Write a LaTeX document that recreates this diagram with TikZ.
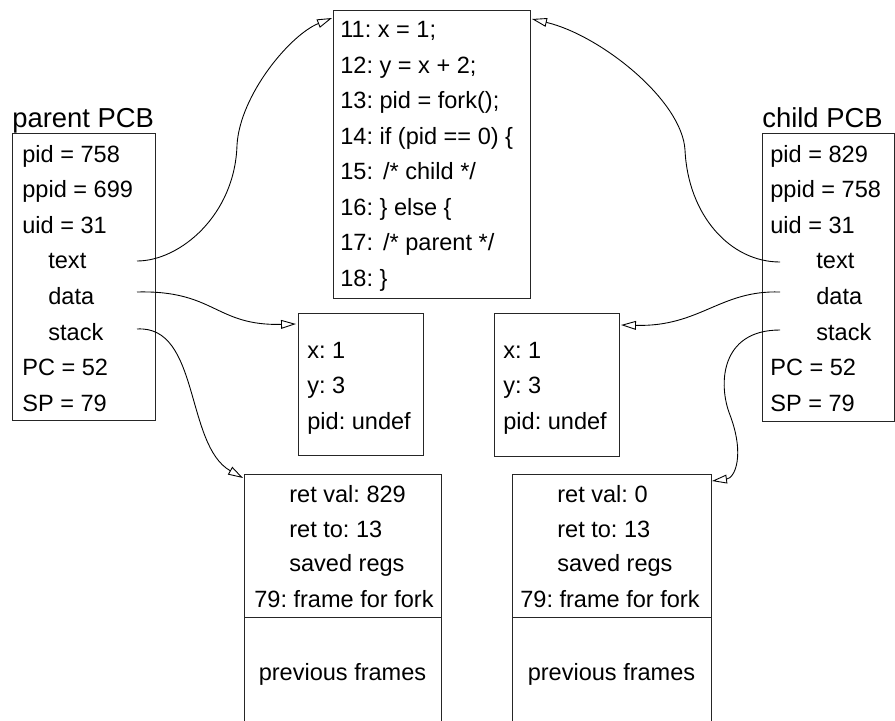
\documentclass[tikz,border=0pt]{standalone}
\usepackage{fontspec}
\setmainfont{Liberation Sans}
\usetikzlibrary{arrows.meta}
\frenchspacing
\tikzstyle{box}=[draw=black!85, line width=0.6pt, anchor=north west, inner sep=0pt]
\tikzstyle{line}=[anchor=base west, inner sep=0pt, font=\fontsize{13.4}{16}\selectfont]
\tikzstyle{midline}=[anchor=base, inner sep=0pt, font=\fontsize{13.4}{16}\selectfont]
\tikzstyle{title}=[anchor=base west, inner sep=0pt, font=\fontsize{15.6}{19}\selectfont]
\tikzstyle{ptr}=[line width=0.5pt, -{Triangle[open, length=8.5pt, width=5pt]}]

\begin{document}
\begin{tikzpicture}[x=0.02cm, y=-0.02cm]
	\clip (0,0) rectangle (895,720);
	% boxes
	\node[box, minimum width=2.86cm, minimum height=5.74cm] (parent) at (12,133) {};
	\node[box, minimum width=2.64cm, minimum height=5.76cm] (child) at (762,133) {};
	\node[box, minimum width=3.94cm, minimum height=5.76cm] (code) at (333,10) {};
	\node[box, minimum width=2.5cm, minimum height=2.84cm] (pdata) at (298,313) {};
	\node[box, minimum width=2.5cm, minimum height=2.86cm] (cdata) at (494,313) {};
	\node[box, minimum width=3.94cm, minimum height=2.86cm] (pframe) at (244,474) {};
	\node[box, minimum width=3.94cm, minimum height=3.2cm] (pprev) at (244,617) {};
	\node[box, minimum width=3.98cm, minimum height=2.86cm] (cframe) at (512,474) {};
	\node[box, minimum width=3.98cm, minimum height=3.2cm] (cprev) at (512,617) {};

	% parent PCB
	\node[title] (ptitle) at (12,127) {parent PCB};
	\node[line] (ppid) at (22,162) {pid = 758};
	\node[line] (pppid) at (22,197.6) {ppid = 699};
	\node[line] (puid) at (22,233.2) {uid = 31};
	\node[line] (ptextl) at (48,268.8) {text};
	\node[line] (pdatal) at (48,304.4) {data};
	\node[line] (pstackl) at (48,340) {stack};
	\node[line] (ppc) at (22,375.6) {PC = 52};
	\node[line] (psp) at (22,411.2) {SP = 79};

	% child PCB
	\node[title] (ctitle) at (762,127) {child PCB};
	\node[line] (cpid) at (770,162) {pid = 829};
	\node[line] (cppid) at (770,197.6) {ppid = 758};
	\node[line] (cuid) at (770,233.2) {uid = 31};
	\node[line] (ctextl) at (816,268.8) {text};
	\node[line] (cdatal) at (816,304.4) {data};
	\node[line] (cstackl) at (816,340) {stack};
	\node[line] (cpc) at (770,375.6) {PC = 52};
	\node[line] (csp) at (770,411.2) {SP = 79};

	% program text
	\node[line] (l11) at (340,37.7) {11: x = 1;};
	\node[line] (l12) at (340,73.2) {12: y = x + 2;};
	\node[line] (l13) at (340,108.7) {13: pid = fork();};
	\node[line] (l14) at (340,144.2) {14: if (pid == 0) \{};
	\node[line] (l15) at (340,179.7) {15: \hspace{2pt}/* child */};
	\node[line] (l16) at (340,215.2) {16: \} else \{};
	\node[line] (l17) at (340,250.7) {17: \hspace{2pt}/* parent */};
	\node[line] (l18) at (340,286.2) {18: \}};

	% data segments
	\node[line] (px) at (307,358) {x: 1};
	\node[line] (py) at (307,393.5) {y: 3};
	\node[line] (ppidv) at (307,429) {pid: undef};
	\node[line] (cx) at (503,358) {x: 1};
	\node[line] (cy) at (503,393.5) {y: 3};
	\node[line] (cpidv) at (503,429) {pid: undef};

	% stacks
	\node[line] (pret) at (289,502) {ret val: 829};
	\node[line] (pretto) at (289,537) {ret to: 13};
	\node[line] (pregs) at (289,571) {saved regs};
	\node[line] (pfork) at (254,607) {79: frame for fork};
	\node[midline] (pprevl) at (342.5,680) {previous frames};
	\node[line] (cret) at (557,502) {ret val: 0};
	\node[line] (cretto) at (557,537) {ret to: 13};
	\node[line] (cregs) at (557,571) {saved regs};
	\node[line] (cfork) at (520,607) {79: frame for fork};
	\node[midline] (cprevl) at (611.5,680) {previous frames};

	% pointers
	\coordinate (ptext) at (137,261);
	\coordinate (pdat) at (137,292);
	\coordinate (pstk) at (137,329);
	\coordinate (ctext) at (780,262);
	\coordinate (cdat) at (780,292);
	\coordinate (cstk) at (780,330);
	\coordinate (codel) at (332,18);
	\coordinate (coder) at (532,19);
	\coordinate (pdatin) at (296,324);
	\coordinate (cdatin) at (621,325);
	\coordinate (pstkin) at (243,478);
	\coordinate (cstkin) at (712,481);

	\draw[ptr] (ptext) .. controls (180,261) and (235,215) .. (237,145) .. controls (240,95) and (290,35) .. (codel);
	\draw[ptr] (pdat) .. controls (215,290) and (215,326) .. (pdatin);
	\draw[ptr] (pstk) .. controls (200,325) and (185,445) .. (pstkin);
	\draw[ptr] (ctext) .. controls (730,262) and (688,215) .. (685,150) .. controls (682,100) and (600,35) .. (coder);
	\draw[ptr] (cdat) .. controls (720,290) and (700,327) .. (cdatin);
	\draw[ptr] (cstk) .. controls (720,330) and (718,385) .. (730,415) .. controls (745,455) and (735,478) .. (cstkin);
\end{tikzpicture}
\end{document}
